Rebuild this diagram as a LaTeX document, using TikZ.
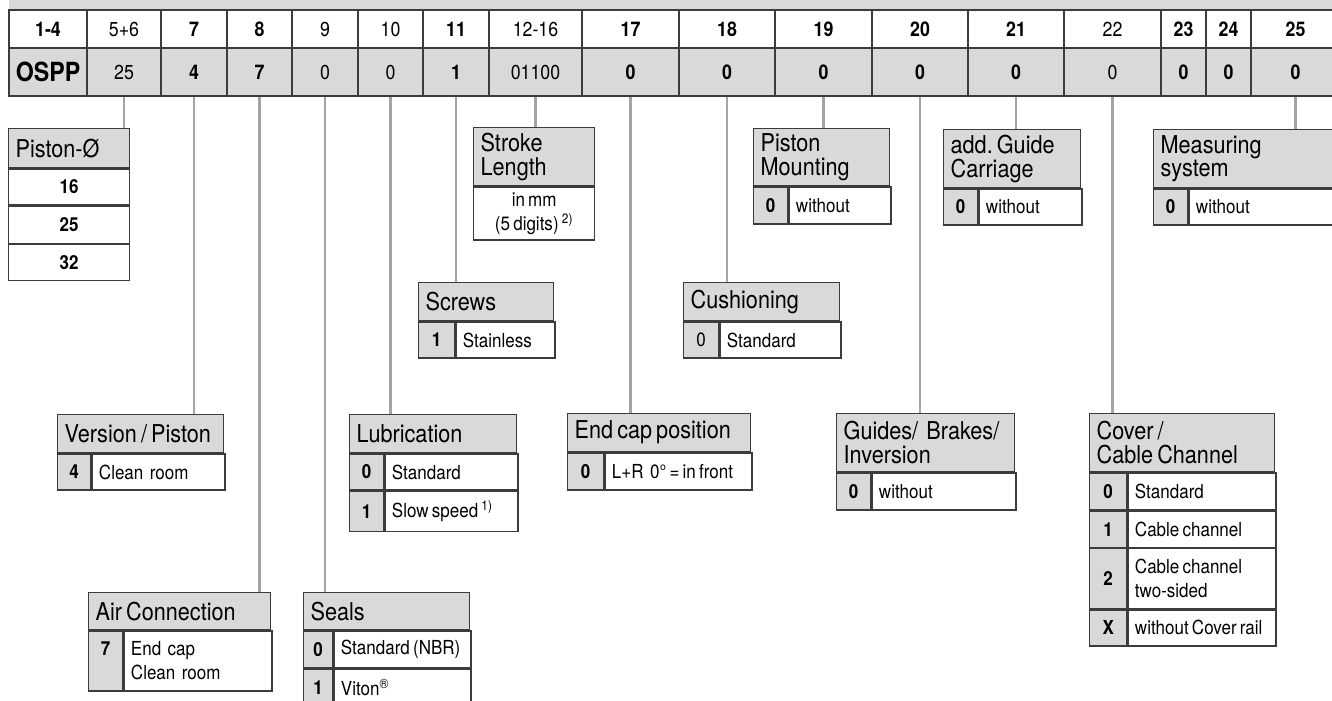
\documentclass[tikz,border=0pt]{standalone}
\usepackage{fontspec}
\setmainfont{TeX Gyre Heros}[FakeStretch=0.88]
\usepackage{tikz}
\usetikzlibrary{positioning}
\definecolor{hdrC}{HTML}{D9D9D9}
\definecolor{frameC}{HTML}{3C3C3C}
\definecolor{linkC}{HTML}{A4A4A4}
\newcommand{\pxu}{0.02cm}
\newcommand{\hdrfont}{\fontsize{14}{13.5}\selectfont}
\newcommand{\optfont}{\fontsize{11}{13.5}\selectfont}

\tikzset{
  frame/.style={draw=frameC, line width=0.75pt},
  hdr/.style 2 args={frame, fill=hdrC, anchor=north west, inner xsep=7*\pxu, inner ysep=0pt,
    text width={(#1-14)*\pxu}, minimum height={#2*\pxu}, align=left, font=\hdrfont},
  key/.style 2 args={frame, fill=hdrC, anchor=north west, inner sep=0pt,
    minimum width={#1*\pxu}, minimum height={#2*\pxu}, align=center, font=\optfont\bfseries},
  opt/.style 2 args={frame, fill=white, anchor=north west, inner xsep=7*\pxu, inner ysep=0pt,
    text width={(#1-14)*\pxu}, minimum height={#2*\pxu}, align=left, font=\optfont},
  link/.style={draw=linkC, line width=1.2pt},
}

\begin{document}
\begin{tikzpicture}[x=0.02cm, y=-0.02cm]
  \useasboundingbox (0,0) rectangle (1332,700);
  \clip (0,0) rectangle (1332,700);

  % --- type code table ---
  \fill[hdrC] (9,0) rectangle (1340,10);
  \foreach \l/\r/\nm/\pos/\code/\wt in {
      9/87/14/1-4/{\fontsize{15}{15}\selectfont OSPP}/\bfseries,
      87/161/56/5+6/25/\mdseries,
      161/227/7/7/4/\bfseries,
      227/292/8/8/7/\bfseries,
      292/358/9/9/0/\mdseries,
      358/423/10/10/0/\mdseries,
      423/489/11/11/1/\bfseries,
      489/582/1216/12-16/01100/\mdseries,
      582/679/17/17/0/\bfseries,
      679/775/18/18/0/\bfseries,
      775/872/19/19/0/\bfseries,
      872/968/20/20/0/\bfseries,
      968/1064/21/21/0/\bfseries,
      1064/1161/22/22/0/\mdseries,
      1161/1206/23/23/0/\bfseries,
      1206/1251/24/24/0/\bfseries,
      1251/1340/25/25/0/\bfseries}
  {
    \node[frame, fill=white, inner sep=0pt, minimum width={(\r-\l)*\pxu},
      minimum height=38*\pxu, font=\fontsize{11.5}{13}\selectfont\wt] (p\nm) at ({(\l+\r)/2},29) {\pos};
    \node[frame, fill=hdrC, inner sep=0pt, minimum width={(\r-\l)*\pxu},
      minimum height=48*\pxu, font=\fontsize{11.5}{13}\selectfont\wt] (v\nm) at ({(\l+\r)/2},72) {\code};
  }

  % --- Piston diameter ---
  \node[hdr={121}{39}] (hPist) at (8,128) {Piston-Ø};
  \node[key={121}{36}, fill=white] (kPist1) at (hPist.south west) {16};
  \node[key={121}{37}, fill=white] (kPist2) at (kPist1.south west) {25};
  \node[key={121}{36}, fill=white] (kPist3) at (kPist2.south west) {32};

  % --- stroke length ---
  \node[hdr={121}{58}] (hStroke) at (473,127) {Stroke\\Length};
  \node[opt={121}{53}, align=center] (oStroke) at (hStroke.south west)
    {in\,mm\\(5\,digits)\,\textsuperscript{2)}};

  % --- screws ---
  \node[hdr={135}{38}] (hScrew) at (418,282) {Screws};
  \node[key={36}{36}] (kScrew) at (hScrew.south west) {1};
  \node[opt={99}{36}] (oScrew) at (kScrew.north east) {Stainless};

  % --- cushioning ---
  \node[hdr={156}{38}] (hCush) at (683,282) {Cushioning};
  \node[key={35}{36}, font=\optfont] (kCush) at (hCush.south west) {0};
  \node[opt={121}{36}] (oCush) at (kCush.north east) {Standard};

  % --- piston mounting ---
  \node[hdr={136}{57}] (hMount) at (753,128) {Piston\\Mounting};
  \node[key={34}{37}] (kMount) at (hMount.south west) {0};
  \node[opt={102}{37}] (oMount) at (kMount.north east) {without};

  % --- additional guide carriage ---
  \node[hdr={137}{58}] (hCarr) at (943,129) {add.\,Guide\\Carriage};
  \node[key={34}{36}] (kCarr) at (hCarr.south west) {0};
  \node[opt={103}{36}] (oCarr) at (kCarr.north east) {without};

  % --- measuring system ---
  \node[hdr={192}{58}] (hMeas) at (1153,129) {Measuring\\system};
  \node[key={34}{36}] (kMeas) at (hMeas.south west) {0};
  \node[opt={158}{36}] (oMeas) at (kMeas.north east) {without};

  % --- version / piston ---
  \node[hdr={166}{38}] (hVers) at (57,414) {Version\,/\,Piston};
  \node[key={33}{36}] (kVers) at (hVers.south west) {4};
  \node[opt={133}{36}] (oVers) at (kVers.north east) {Clean room};

  % --- air connection ---
  \node[hdr={182}{37}] (hAir) at (88,592) {Air\,Connection};
  \node[key={34}{60}] (kAir) at (hAir.south west) {7\\\phantom{7}};
  \node[opt={148}{60}] (oAir) at (kAir.north east) {End cap\\Clean room};

  % --- lubrication ---
  \node[hdr={167}{38}] (hLub) at (349,414) {Lubrication};
  \node[key={34}{36}] (kLub0) at (hLub.south west) {0};
  \node[opt={133}{36}] (oLub0) at (kLub0.north east) {Standard};
  \node[key={34}{40}] (kLub1) at (kLub0.south west) {1};
  \node[opt={133}{40}] (oLub1) at (kLub1.north east) {Slow\,speed\,\textsuperscript{1)}};

  % --- seals ---
  \node[hdr={166}{37}] (hSeal) at (303,592) {Seals};
  \node[key={29}{37}] (kSeal0) at (hSeal.south west) {0};
  \node[opt={137}{37}] (oSeal0) at (kSeal0.north east) {Standard\,(NBR)};
  \node[key={29}{37}] (kSeal1) at (kSeal0.south west) {1};
  \node[opt={137}{37}] (oSeal1) at (kSeal1.north east) {Viton\textsuperscript{®}};

  % --- end cap position ---
  \node[hdr={183}{38}] (hCap) at (567,413) {End\,cap\,position};
  \node[key={36}{37}] (kCap) at (hCap.south west) {0};
  \node[opt={147}{37}] (oCap) at (kCap.north east) {L+R 0°\,=\,in\,front};

  % --- guides / brakes / inversion ---
  \node[hdr={178}{58}] (hGuide) at (836,413) {Guides/ Brakes/\\Inversion};
  \node[key={34}{37}] (kGuide) at (hGuide.south west) {0};
  \node[opt={144}{37}] (oGuide) at (kGuide.north east) {without};

  % --- cover / cable channel ---
  \node[hdr={185}{58}] (hCover) at (1089,413) {Cover\,/\\Cable\,Channel};
  \node[key={37}{37}] (kCov0) at (hCover.south west) {0};
  \node[opt={148}{37}] (oCov0) at (kCov0.north east) {Standard};
  \node[key={37}{36}] (kCov1) at (kCov0.south west) {1};
  \node[opt={148}{36}] (oCov1) at (kCov1.north east) {Cable\,channel};
  \node[key={37}{60}] (kCov2) at (kCov1.south west) {2};
  \node[opt={148}{60}] (oCov2) at (kCov2.north east) {Cable\,channel\\two-sided};
  \node[key={37}{36}] (kCovX) at (kCov2.south west) {X};
  \node[opt={148}{36}] (oCovX) at (kCovX.north east) {without\,Cover\,rail};

  % --- connectors from code to option boxes ---
  \foreach \c/\b in {56/hPist, 7/hVers, 8/hAir, 9/hSeal, 10/hLub, 11/hScrew,
      1216/hStroke, 17/hCap, 18/hCush, 19/hMount, 20/hGuide, 21/hCarr, 22/hCover, 25/hMeas}
    \draw[link] (v\c.south) -- (v\c.south |- \b.north);
\end{tikzpicture}
\end{document}
